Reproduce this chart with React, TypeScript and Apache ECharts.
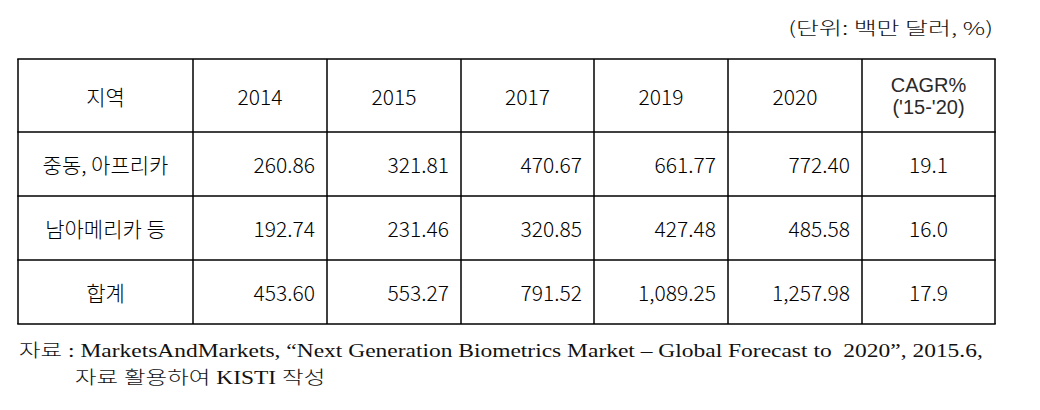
import React, { useEffect, useRef } from "react";
import * as echarts from "echarts";

const unitLabel = "(단위: 백만 달러, %)";
const headerRegion = "지역";
const years = ["2014", "2015", "2017", "2019", "2020"];
const headerCagr = ["CAGR%", "('15-'20)"];
const regions = ["중동, 아프리카", "남아메리카 등", "합계"];
const values2014 = [260.86, 192.74, 453.6];
const values2015 = [321.81, 231.46, 553.27];
const values2017 = [470.67, 320.85, 791.52];
const values2019 = [661.77, 427.48, 1089.25];
const values2020 = [772.4, 485.58, 1257.98];
const cagr = [19.1, 16.0, 17.9];
const sourceLine1 =
  "자료 : MarketsAndMarkets, “Next Generation Biometrics Market – Global Forecast to  2020”, 2015.6,";
const sourceLine2 = "자료 활용하여 KISTI 작성";

const colX = [18, 193, 327, 461, 594, 728, 862, 995];
const rowY = [59, 132, 196, 260, 324];
const TABLE_FONT = "'Noto Sans CJK KR', 'Noto Sans', sans-serif";
const HEAD_FONT = "'Liberation Sans', 'Noto Sans CJK KR', sans-serif";
const NOTE_FONT = "'Liberation Serif', 'Noto Sans CJK KR', serif";

function measure(text: string, font: string): number {
  const c = document.createElement("canvas").getContext("2d");
  if (!c) return 1;
  c.font = font;
  return c.measureText(text).width;
}

const fmt2 = (v: number) =>
  v.toLocaleString("en-US", { minimumFractionDigits: 2, maximumFractionDigits: 2 });
const fmt1 = (v: number) => v.toFixed(1);

export default function App() {
  const ref = useRef<HTMLDivElement>(null);
  useEffect(() => {
    document.body.style.margin = "0";
    if (!ref.current) return;
    const chart = echarts.init(ref.current, undefined, { renderer: "svg" });
    const els: any[] = [];
    const left = colX[0];
    const right = colX[colX.length - 1];
    const top = rowY[0];
    const bottom = rowY[rowY.length - 1];
    rowY.forEach((y) =>
      els.push({
        type: "line",
        shape: { x1: left - 0.75, y1: y, x2: right + 0.75, y2: y },
        style: { stroke: "#000", lineWidth: 1.5 },
      })
    );
    colX.forEach((x) =>
      els.push({
        type: "line",
        shape: { x1: x, y1: top, x2: x, y2: bottom },
        style: { stroke: "#000", lineWidth: 1.5 },
      })
    );
    const cellText = (text: string, x: number, y: number, align: string, extra: any = {}) => ({
      type: "text",
      x,
      y,
      style: {
        text,
        fill: "#000",
        fontSize: 21,
        fontWeight: 300,
        fontFamily: TABLE_FONT,
        align,
        verticalAlign: "middle",
        ...extra,
      },
    });
    const headerY = (rowY[0] + rowY[1]) / 2;
    els.push(cellText(headerRegion, (colX[0] + colX[1]) / 2, headerY, "center"));
    years.forEach((yr, i) =>
      els.push(cellText(yr, (colX[i + 1] + colX[i + 2]) / 2, headerY, "center"))
    );
    const cagrX = (colX[6] + colX[7]) / 2;
    const headExtra = { fontSize: 20, lineHeight: 20, fontFamily: HEAD_FONT, fontWeight: "normal", fill: "#2a2a2a" };
    els.push(cellText(headerCagr[0], cagrX, 84.5, "center", headExtra));
    els.push(cellText(headerCagr[1], cagrX, 107, "center", headExtra));
    const cols = [values2014, values2015, values2017, values2019, values2020];
    regions.forEach((r, ri) => {
      const cy = (rowY[ri + 1] + rowY[ri + 2]) / 2;
      els.push(cellText(r, (colX[0] + colX[1]) / 2, cy, "center"));
      cols.forEach((arr, ci) => {
        els.push(cellText(fmt2(arr[ri]), colX[ci + 2] - 12, cy, "right"));
      });
      els.push(cellText(fmt1(cagr[ri]), cagrX, cy, "center"));
    });

    // unit label
    const unitFont = `300 18px ${TABLE_FONT}`;
    const unitW = measure(unitLabel, unitFont);
    els.push({
      type: "text",
      x: 993,
      y: 27,
      scaleX: 205 / unitW,
      style: {
        text: unitLabel,
        fill: "#111",
        fontSize: 18,
        fontWeight: 300,
        fontFamily: TABLE_FONT,
        align: "right",
        verticalAlign: "middle",
      },
    });
    // source
    const noteFont = `300 18px ${NOTE_FONT}`;
    const w1 = measure(sourceLine1, noteFont);
    const sx = 964 / w1;
    const noteStyle = {
      fill: "#111",
      fontSize: 18,
      fontWeight: 300,
      fontFamily: NOTE_FONT,
      align: "left",
      verticalAlign: "middle",
    };
    els.push({
      type: "text",
      x: 19,
      y: 351,
      scaleX: sx,
      style: { text: sourceLine1, ...noteStyle },
    });
    els.push({
      type: "text",
      x: 75,
      y: 378,
      scaleX: sx,
      style: { text: sourceLine2, ...noteStyle },
    });

    chart.setOption({
      animation: false,
      backgroundColor: "#fff",
      graphic: { elements: els },
    });
    return () => chart.dispose();
  }, []);
  return <div ref={ref} style={{ width: 1040, height: 410 }} />;
}
